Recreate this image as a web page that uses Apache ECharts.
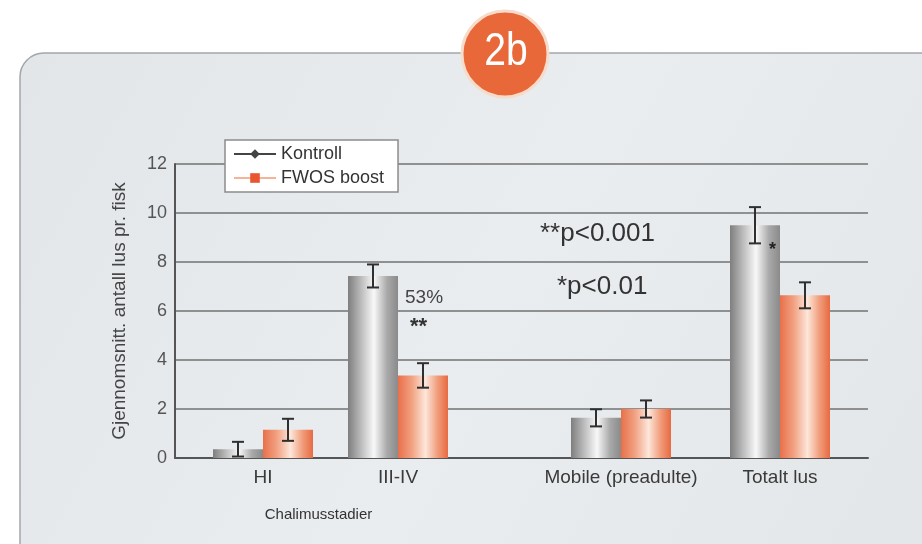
<!DOCTYPE html>
<html><head><meta charset="utf-8">
<script src="https://cdn.jsdelivr.net/npm/echarts@6/dist/echarts.min.js"></script>
<style>html,body{margin:0;padding:0;background:#fff}#c{width:922px;height:544px}</style>
</head><body><div id="c"></div>
<script>
// ---- data ----
const categories = ['HI', 'III-IV', 'Mobile (preadulte)', 'Totalt lus'];
const kontroll = [0.36, 7.43, 1.64, 9.5];
const kontrollErr = [0.3, 0.47, 0.35, 0.74];
const fwos = [1.15, 3.37, 2.0, 6.64];
const fwosErr = [0.45, 0.5, 0.35, 0.53];
const groupChalimus = [0, 1];
const groupOther = [2, 3];
const seriesNames = ['Kontroll', 'FWOS boost'];
const yMin = 0, yMax = 12, yStep = 2;

// ---- styles ----
const BAR_W = 50;
const FONT = "'Liberation Sans', Arial, sans-serif";
const greyGrad = new echarts.graphic.LinearGradient(0, 0, 1, 0, [
  {offset: 0, color: '#7e7e7e'}, {offset: 0.25, color: '#b9b9b9'},
  {offset: 0.52, color: '#f8f8f8'}, {offset: 0.78, color: '#a9a9a9'},
  {offset: 1, color: '#8a8a8a'}]);
const orangeGrad = new echarts.graphic.LinearGradient(0, 0, 1, 0, [
  {offset: 0, color: '#e8704a'}, {offset: 0.28, color: '#f2a283'},
  {offset: 0.55, color: '#fde6da'}, {offset: 0.8, color: '#f09a78'},
  {offset: 1, color: '#e86a42'}]);

function errRender(params, api) {
  const k = api.value(0);
  const children = [];
  [[1, 2, -1], [3, 4, 1]].forEach(([vi, ei, side]) => {
    const v = api.value(vi), e = api.value(ei);
    const top = api.coord([k, v + e]);
    const bot = api.coord([k, v - e]);
    const cx = top[0] + side * BAR_W / 2;
    const st = {stroke: '#2f2f2f', lineWidth: 2};
    children.push({type: 'line', shape: {x1: cx, y1: top[1], x2: cx, y2: bot[1]}, style: st});
    children.push({type: 'line', shape: {x1: cx - 6, y1: top[1], x2: cx + 6, y2: top[1]}, style: st});
    children.push({type: 'line', shape: {x1: cx - 6, y1: bot[1], x2: cx + 6, y2: bot[1]}, style: st});
  });
  return {type: 'group', children};
}

function groupSeries(group, axisIdx) {
  return [
    {name: seriesNames[0], type: 'bar', xAxisIndex: axisIdx, yAxisIndex: axisIdx,
     data: group.map(i => kontroll[i]), barWidth: BAR_W, barGap: '0%',
     itemStyle: {color: greyGrad}, emphasis: {disabled: true}},
    {name: seriesNames[1], type: 'bar', xAxisIndex: axisIdx, yAxisIndex: axisIdx,
     data: group.map(i => fwos[i]), barWidth: BAR_W, barGap: '0%',
     itemStyle: {color: orangeGrad}, emphasis: {disabled: true}},
    {type: 'custom', xAxisIndex: axisIdx, yAxisIndex: axisIdx, z: 5,
     renderItem: errRender,
     data: group.map((i, k) => [k, kontroll[i], kontrollErr[i], fwos[i], fwosErr[i]])}
  ];
}

const hiddenY = {type: 'value', min: yMin, max: yMax, interval: yStep, show: false, splitLine: {show: false}};
const grid = {top: 164, bottom: 86};
const xLabel = {fontSize: 19, color: '#3a3a3a', margin: 10, interval: 0, hideOverlap: false};

const chart = echarts.init(document.getElementById('c'));
chart.setOption({
  animation: false,
  textStyle: {fontFamily: FONT},
  grid: [
    Object.assign({left: 175, right: 54}, grid),
    Object.assign({left: 195.5, width: 270}, grid),
    Object.assign({left: 541.5, width: 318}, grid)
  ],
  legend: {
    data: seriesNames, orient: 'vertical', left: 225, top: 140,
    backgroundColor: '#ffffff', borderColor: '#8c8c8c', borderWidth: 1.5,
    padding: [5, 14, 5, 8], itemWidth: 42, itemHeight: 12, itemGap: 6,
    textStyle: {fontSize: 18, color: '#333', fontFamily: FONT}, selectedMode: false
  },
  xAxis: [
    {type: 'category', gridIndex: 0, data: [''], axisTick: {show: false}, axisLabel: {show: false},
     axisLine: {lineStyle: {color: '#555', width: 2}}},
    {type: 'category', gridIndex: 1, data: groupChalimus.map(i => categories[i]),
     axisLine: {show: false}, axisTick: {show: false}, axisLabel: xLabel,
     name: 'Chalimusstadier', nameLocation: 'middle', nameGap: 49,
     nameTextStyle: {fontSize: 15, color: '#333', padding: [0, 24, 0, 0]}},
    {type: 'category', gridIndex: 2, data: groupOther.map(i => categories[i]),
     axisLine: {show: false}, axisTick: {show: false}, axisLabel: xLabel}
  ],
  yAxis: [
    {type: 'value', gridIndex: 0, min: yMin, max: yMax, interval: yStep,
     axisLine: {show: true, lineStyle: {color: '#555', width: 2}}, axisTick: {show: false},
     axisLabel: {fontSize: 18, color: '#555', margin: 8},
     splitLine: {lineStyle: {color: '#727272', width: 1.5}},
     name: 'Gjennomsnitt. antall lus pr. fisk', nameLocation: 'middle', nameGap: 46,
     nameTextStyle: {fontSize: 19, color: '#444'}},
    Object.assign({gridIndex: 1}, hiddenY),
    Object.assign({gridIndex: 2}, hiddenY)
  ],
  series: [
    {name: seriesNames[0], type: 'line', xAxisIndex: 0, yAxisIndex: 0, data: [],
     symbol: 'diamond', symbolSize: 9, itemStyle: {color: '#444'}, lineStyle: {color: '#444', width: 2}},
    {name: seriesNames[1], type: 'line', xAxisIndex: 0, yAxisIndex: 0, data: [],
     symbol: 'rect', symbolSize: 9, itemStyle: {color: '#e8552f'}, lineStyle: {color: '#f6b497', width: 2}}
  ].concat(groupSeries(groupChalimus, 1), groupSeries(groupOther, 2)),
  graphic: [
    {type: 'rect', z: -100, silent: true,
     shape: {x: 20, y: 53, width: 930, height: 520, r: 24},
     style: {fill: new echarts.graphic.LinearGradient(0, 0, 1, 1, [
       {offset: 0, color: '#e2e6e9'}, {offset: 0.5, color: '#eaedef'}, {offset: 1, color: '#e3e6e8'}]),
       stroke: '#a2a7ac', lineWidth: 1.5}},
    {type: 'circle', z: 100, shape: {cx: 505, cy: 54, r: 43},
     style: {fill: '#e8683a', stroke: '#f8dccb', lineWidth: 3}},
    {type: 'text', z: 101, x: 506, y: 52, scaleX: 0.85,
     style: {text: '2b', fill: '#ffffff', fontSize: 46, fontFamily: FONT,
             align: 'center', verticalAlign: 'middle'}},
    {type: 'text', z: 50, x: 405, y: 298,
     style: {text: '53%', fill: '#444', fontSize: 19, fontFamily: FONT, verticalAlign: 'middle'}},
    {type: 'text', z: 50, x: 410, y: 327,
     style: {text: '**', fill: '#333', fontSize: 22, fontWeight: 'bold', fontFamily: FONT, verticalAlign: 'middle'}},
    {type: 'text', z: 50, x: 540, y: 234,
     style: {text: '**p<0.001', fill: '#333', fontSize: 26, fontFamily: FONT, verticalAlign: 'middle'}},
    {type: 'text', z: 50, x: 557, y: 287,
     style: {text: '*p<0.01', fill: '#333', fontSize: 26, fontFamily: FONT, verticalAlign: 'middle'}},
    {type: 'text', z: 50, x: 769, y: 250,
     style: {text: '*', fill: '#222', fontSize: 18, fontWeight: 'bold', fontFamily: FONT, verticalAlign: 'middle'}}
  ]
});
</script>
</body></html>
